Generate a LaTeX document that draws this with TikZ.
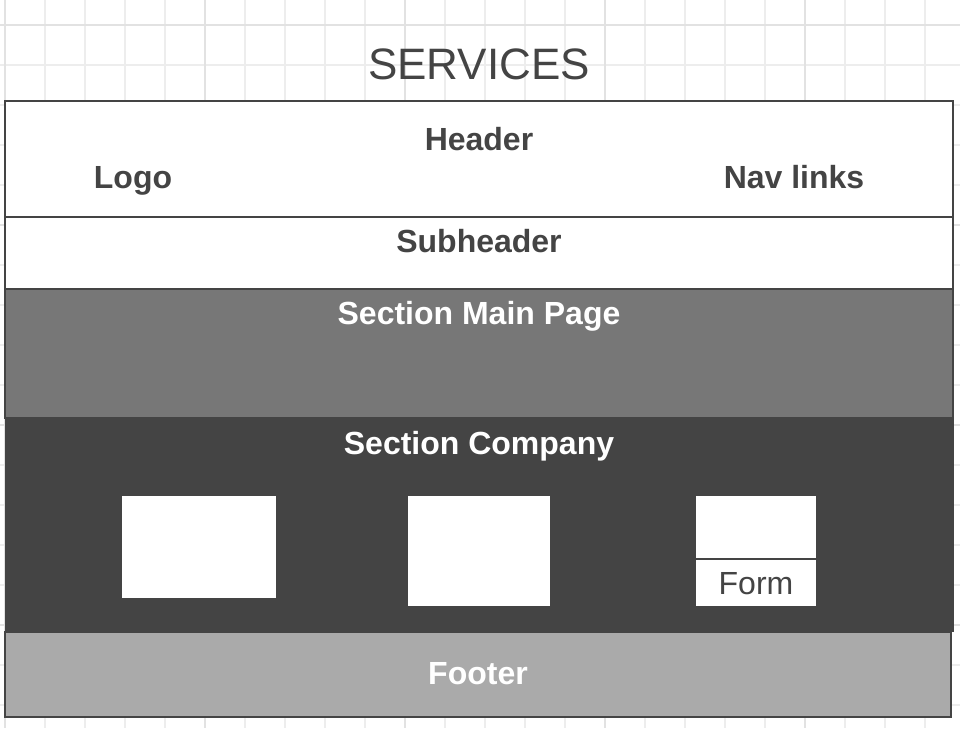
\documentclass[tikz,border=0pt]{standalone}
\usepackage{fontspec}
\setmainfont{Liberation Sans}
\definecolor{ink}{HTML}{444444}
\definecolor{gridminor}{HTML}{EDEDED}
\definecolor{gridmajor}{HTML}{E2E2E2}
\definecolor{mainfill}{HTML}{777777}
\definecolor{companyfill}{HTML}{444444}
\definecolor{footerfill}{HTML}{AAAAAA}
\begin{document}
\begin{tikzpicture}[x=1pt,y=-1pt,
  block/.style={draw=ink, line width=2pt, anchor=north west, inner sep=0pt, outer sep=0pt},
  plain/.style={anchor=north west, inner sep=0pt, outer sep=0pt, fill=white},
  label/.style={anchor=base, inner sep=0pt, font=\fontsize{32}{38}\selectfont\bfseries, text=ink},
  whitelabel/.style={label, text=white},
]
\useasboundingbox (0,0) rectangle (960,728);
% background grid
\fill[white] (0,0) rectangle (960,728);
\foreach \gx in {5,45,...,965} \draw[gridminor, line width=1.3pt] (\gx,0) -- (\gx,728);
\foreach \gy in {25,65,...,745} \draw[gridminor, line width=1.3pt] (0,\gy) -- (960,\gy);
\foreach \gx in {5,205,405,605,805} \draw[gridmajor, line width=1.3pt] (\gx,0) -- (\gx,728);
\foreach \gy in {25,225,425,625} \draw[gridmajor, line width=1.3pt] (0,\gy) -- (960,\gy);

% page title
\node[anchor=base, inner sep=0pt, font=\fontsize{44}{50}\selectfont, text=ink] (title) at (479,79) {SERVICES};

% page bands
\node[block, fill=white, minimum width=948pt, minimum height=116pt] (header) at (5,101) {};
\node[block, fill=white, minimum width=948pt, minimum height=72pt] (subheader) at (5,217) {};
\node[block, fill=mainfill, minimum width=948pt, minimum height=129pt] (mainpage) at (5,289) {};
\node[anchor=north west, inner sep=0pt, outer sep=0pt, fill=companyfill, minimum width=949pt, minimum height=214pt] (company) at (5,418) {};
\node[block, fill=footerfill, minimum width=946pt, minimum height=85pt] (footer) at (5,632) {};

% band labels
\node[label] (headerlbl) at (479,150) {Header};
\node[label] (logo) at (133,188) {Logo};
\node[label] (nav) at (794,188) {Nav links};
\node[label] (sublbl) at (479,252) {Subheader};
\node[whitelabel] (mainlbl) at (479,324) {Section Main Page};
\node[whitelabel] (companylbl) at (479,454) {Section Company};
\node[whitelabel] (footerlbl) at (478,684) {Footer};

% content blocks of the company section
\node[plain, minimum width=154pt, minimum height=102pt] (boxa) at (122,496) {};
\node[plain, minimum width=142pt, minimum height=110pt] (boxb) at (408,496) {};
\node[plain, minimum width=120pt, minimum height=63pt] (formtop) at (696,496) {};
\node[plain, minimum width=120pt, minimum height=47pt] (formbot) at (696,559) {};
\draw[ink, line width=2pt] (formtop.south west) -- (formtop.south east);
\node[anchor=base, inner sep=0pt, font=\fontsize{32}{38}\selectfont, text=ink] (formlbl) at (756,594) {Form};
\end{tikzpicture}
\end{document}
